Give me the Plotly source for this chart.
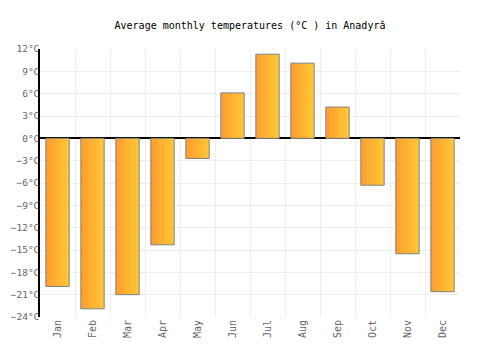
import plotly.graph_objects as go

months = ["Jan", "Feb", "Mar", "Apr", "May", "Jun", "Jul", "Aug", "Sep", "Oct", "Nov", "Dec"]
temps = [-19.9, -22.9, -21.0, -14.3, -2.7, 6.1, 11.3, 10.1, 4.2, -6.3, -15.5, -20.6]
y_ticks = list(range(-24, 13, 3))
y_labels = [f"{t}°C".replace("-", "−") for t in y_ticks]

half = 0.333
fig = go.Figure()
for i, v in enumerate(temps):
    xs = [i - half, i + half, i + half, i - half, i - half]
    ys = [0, 0, v, v, 0]
    fig.add_trace(go.Scatter(
        x=xs, y=ys, mode="lines", fill="toself",
        fillgradient=dict(type="horizontal",
                          colorscale=[[0, "#FF9C30"], [1, "#FFC935"]]),
        line=dict(color="#808080", width=1),
        showlegend=False, hoverinfo="skip",
    ))

font = "DejaVu Sans Mono"
fig.update_layout(
    width=500, height=350,
    margin=dict(l=40, r=40, t=49, b=33),
    paper_bgcolor="white", plot_bgcolor="white",
    title=dict(text="Average monthly temperatures (°C ) in Anadyrâ",
               x=0.5, xanchor="center", y=1 - 25 / 350, yanchor="middle",
               font=dict(family=font, size=10, color="black")),
    xaxis=dict(
        range=[-0.5, 11.5], tickvals=list(range(12)), ticktext=months,
        tickangle=-90, showgrid=False, zeroline=False,
        tickfont=dict(family=font, size=10, color="#666"),
        ticks="", showline=False, automargin=False,
        minor=dict(tickvals=[k - 0.5 for k in range(13)], showgrid=True,
                   gridcolor="#eeeeee", gridwidth=1, ticks=""),
        fixedrange=True,
    ),
    yaxis=dict(
        range=[-24, 12], tickvals=y_ticks, ticktext=y_labels,
        showgrid=True, gridcolor="#eeeeee", gridwidth=1,
        zeroline=True, zerolinecolor="black", zerolinewidth=1.5,
        showline=True, linecolor="black", linewidth=1.5,
        tickfont=dict(family=font, size=9.5, color="#666"),
        ticks="", fixedrange=True, automargin=False, ticklabelstandoff=-3,
    ),
)

fig.write_html("out.html")
